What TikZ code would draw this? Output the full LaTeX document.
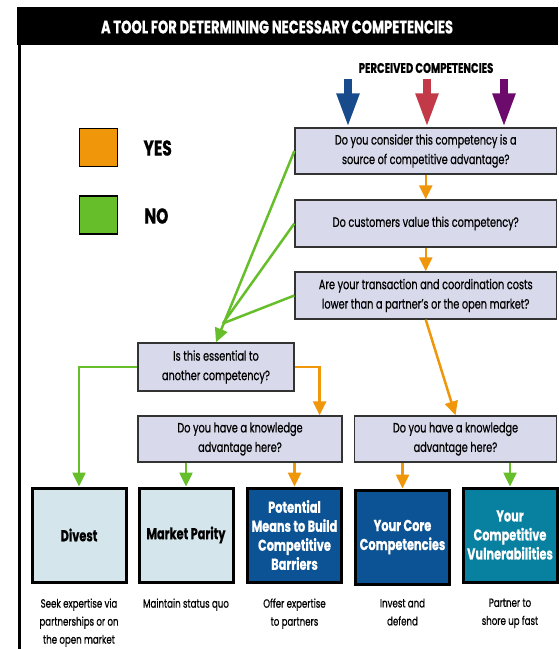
\documentclass[tikz,border=0pt]{standalone}
\usepackage{fontspec}
\setmainfont{Poppins}[FakeStretch=0.72, FakeBold=0.6]
\usetikzlibrary{arrows.meta,calc}

\definecolor{lav}{HTML}{D8D9EA}
\definecolor{edgegray}{HTML}{333333}
\definecolor{lightbox}{HTML}{D4E5EC}
\definecolor{darkblue}{HTML}{0B5394}
\definecolor{tealbox}{HTML}{08809F}
\definecolor{yesorange}{HTML}{F0960A}
\definecolor{nogreen}{HTML}{66BF2A}
\definecolor{pblue}{HTML}{174B8C}
\definecolor{pred}{HTML}{C23A48}
\definecolor{ppurple}{HTML}{6C0B6C}

\begin{document}
\begin{tikzpicture}[x=1pt,y=-1pt,
  qbox/.style={draw=edgegray, fill=lav, line width=1.3pt, inner sep=0pt,
    align=center, font=\fontsize{13.5}{19.5}\selectfont},
  outbox/.style={draw=black, line width=3pt, minimum width=94pt, minimum height=94pt,
    inner sep=0pt, align=center, font=\bfseries\fontsize{15.8}{19}\selectfont},
  lightout/.style={outbox, fill=lightbox, text=black},
  darkout/.style={outbox, fill=darkblue, text=white},
  tealout/.style={outbox, fill=tealbox, text=white},
  note/.style={anchor=north, align=center, font=\fontsize{12}{18}\selectfont},
  yesarrow/.style={draw=yesorange, line width=2.5pt, -{Triangle[width=13pt,length=14pt]}},
  noarrow/.style={draw=nogreen, line width=2.5pt, -{Triangle[width=13pt,length=14pt]}},
  noline/.style={draw=nogreen, line width=2.5pt},
  perceived/.style={line width=8pt, -{Triangle[width=21pt,length=34pt]}},
  legendsq/.style={draw=black, line width=1.5pt, minimum width=38pt, minimum height=38pt, inner sep=0pt},
  legendtxt/.style={anchor=west, font=\bfseries\fontsize{21.5}{24}\selectfont}
]
\useasboundingbox (0,0) rectangle (558,649);

% title bar and left rule
\fill[black] (17,7) rectangle (558,45);
\node[text=white, font=\bfseries\fontsize{18.2}{21}\selectfont] (title) at (277,27) {A TOOL FOR DETERMINING NECESSARY COMPETENCIES};
\draw[line width=2.8pt] (19.5,45) -- (19.5,649);

% legend
\node[legendsq, fill=yesorange] (yessq) at (98.5,147.5) {};
\node[legendtxt] (yestxt) at (140,148) {YES};
\node[legendsq, fill=nogreen] (nosq) at (98.5,215) {};
\node[legendtxt] (notxt) at (141,216) {NO};

% question boxes
\node[qbox, minimum width=261.5pt, minimum height=46pt] (q1) at (425.75,151) {Do you consider this competency is a\\source of competitive advantage?};
\node[qbox, minimum width=261.5pt, minimum height=47pt] (q2) at (425.75,223.5) {Do customers value this competency?};
\node[qbox, minimum width=261.5pt, minimum height=47pt] (q3) at (425.75,295.5) {Are your transaction and coordination costs\\lower than a partner’s or the open market?};
\node[qbox, minimum width=156pt, minimum height=48pt] (q4) at (216,367) {Is this essential to\\another competency?};
\node[qbox, minimum width=204pt, minimum height=46pt] (q5) at (240,439) {Do you have a knowledge\\advantage here?};
\node[qbox, minimum width=202pt, minimum height=46pt] (q6) at (455.5,439) {Do you have a knowledge\\advantage here?};

% perceived competencies
\node[font=\bfseries\fontsize{14}{16}\selectfont] (perc) at (426,68) {PERCEIVED COMPETENCIES};
\coordinate (pa) at (348,79);
\coordinate (pb) at (427,79);
\coordinate (pc) at (504,79);
\draw[perceived, draw=pblue, fill=pblue] (pa) -- (pa |- q1.north);
\draw[perceived, draw=pred, fill=pred] (pb) -- (pb |- q1.north);
\draw[perceived, draw=ppurple, fill=ppurple] (pc) -- (pc |- q1.north);

% outcome boxes
\node[lightout] (div) at (79,535) {Divest};
\node[lightout] (mp) at (186,535) {Market Parity};
\node[darkout] (pot) at (294.5,535) {Potential\\Means to Build\\Competitive\\Barriers};
\node[darkout] (core) at (402.5,537) {Your Core\\Competencies};
\node[tealout] (vul) at (510,535) {Your\\Competitive\\Vulnerabilities};

% notes under outcomes
\node[note] (ndiv) at (79,595) {Seek expertise via\\partnerships or on\\the open market};
\node[note] (nmp) at (186,595) {Maintain status quo};
\node[note] (npot) at (294.5,595) {Offer expertise\\to partners};
\node[note] (ncore) at (402.5,595) {Invest and\\defend};
\node[note] (nvul) at (510,595) {Partner to\\shore up fast};

% yes path down the main column
\draw[yesarrow] (q1.south) -- (q2.north);
\draw[yesarrow] (q2.south) -- (q3.north);
\draw[yesarrow] (q3.south) -- (q6.north);

% no answers converge on the essential question
\coordinate (conv) at ($(q4.north)+(7,-19)$);
\draw[noline] (q2.west) -- (conv);
\draw[noline] (q3.west) -- (conv);
\draw[noarrow] (q1.west) -- (q4.north);

% essential question branches
\draw[noarrow] (q4.west) -| (div.north);
\draw[yesarrow] (q4.east) -| ([xshift=-23pt]q5.north east);

% knowledge advantage branches
\draw[noarrow] (q5.south -| mp.north) -- (mp.north);
\draw[yesarrow] (q5.south -| pot.north) -- (pot.north);
\draw[yesarrow] (q6.south -| core.north) -- (core.north);
\draw[noarrow] (q6.south -| vul.north) -- (vul.north);
\end{tikzpicture}
\end{document}
